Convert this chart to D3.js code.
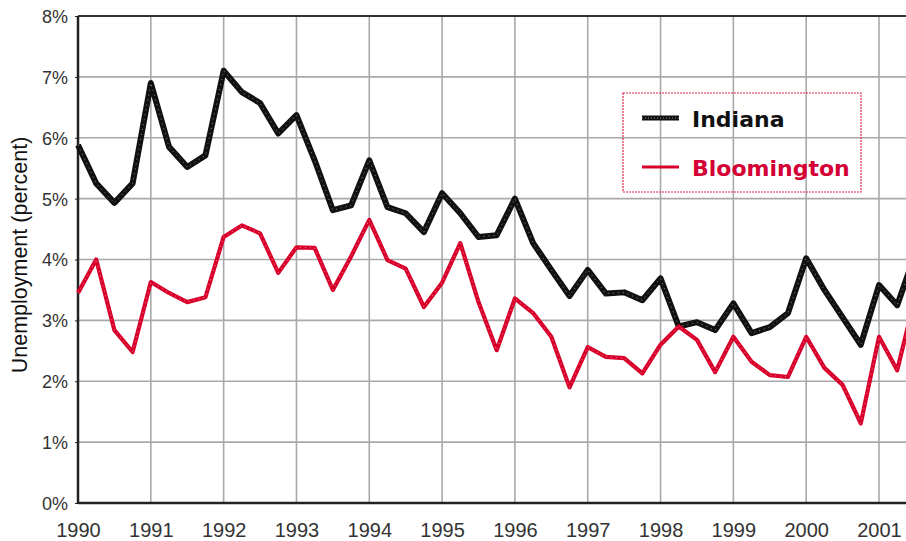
<!DOCTYPE html>
<html lang="en">
<head>
  <meta charset="UTF-8" />
  <title>Unemployment - Indiana vs Bloomington</title>
  <script src="https://cdnjs.cloudflare.com/ajax/libs/d3/7.8.5/d3.min.js"></script>
  <style>
    body {
      margin: 0;
      background: #fff;
      font-family: "Liberation Sans", Arial, sans-serif;
    }
    svg {
      display: block;
    }
  </style>
</head>
<body>
  <svg id="chart" width="906" height="541"></svg>

  <script>
    // quarterly observations, 1990 Q1 onward
    const quarters = [
      1990.00, 1990.25, 1990.50, 1990.75, 1991.00, 1991.25, 1991.50, 1991.75,
      1992.00, 1992.25, 1992.50, 1992.75, 1993.00, 1993.25, 1993.50, 1993.75,
      1994.00, 1994.25, 1994.50, 1994.75, 1995.00, 1995.25, 1995.50, 1995.75,
      1996.00, 1996.25, 1996.50, 1996.75, 1997.00, 1997.25, 1997.50, 1997.75,
      1998.00, 1998.25, 1998.50, 1998.75, 1999.00, 1999.25, 1999.50, 1999.75,
      2000.00, 2000.25, 2000.50, 2000.75, 2001.00, 2001.25, 2001.50
    ];

    const indiana = [
      5.88, 5.25, 4.93, 5.25, 6.90, 5.85, 5.52, 5.71,
      7.10, 6.75, 6.57, 6.07, 6.37, 5.63, 4.81, 4.89,
      5.63, 4.86, 4.76, 4.45, 5.09, 4.76, 4.37, 4.40,
      5.00, 4.27, 3.83, 3.40, 3.83, 3.44, 3.46, 3.33,
      3.69, 2.90, 2.97, 2.84, 3.28, 2.79, 2.89, 3.12,
      4.02, 3.50, 3.05, 2.60, 3.58, 3.25, 4.10
    ];

    const bloomington = [
      3.45, 4.00, 2.84, 2.48, 3.63, 3.45, 3.30, 3.38,
      4.37, 4.56, 4.43, 3.78, 4.20, 4.19, 3.50, 4.05,
      4.65, 3.99, 3.85, 3.22, 3.62, 4.27, 3.30, 2.51,
      3.36, 3.12, 2.73, 1.90, 2.56, 2.40, 2.38, 2.13,
      2.60, 2.90, 2.68, 2.15, 2.73, 2.32, 2.10, 2.07,
      2.73, 2.22, 1.94, 1.31, 2.73, 2.18, 3.40
    ];

    const yearTicks = [1990, 1991, 1992, 1993, 1994, 1995, 1996, 1997, 1998, 1999, 2000, 2001];
    const pctTicks = [0, 1, 2, 3, 4, 5, 6, 7, 8];

    const seriesNames = ["Indiana", "Bloomington"];
    const seriesColors = ["#111111", "#d8002a"];

    const svg = d3.select("#chart");
    const plotL = 78, plotT = 16, plotB = 503, plotR = 906;

    const x = d3.scaleLinear().domain([1990, 2001]).range([plotL, 879]);
    const y = d3.scaleLinear().domain([0, 8]).range([plotB, plotT]);

    // grid
    const grid = svg.append("g");
    grid.selectAll("line.h")
      .data(pctTicks.filter(d => d > 0 && d < 8))
      .enter().append("line")
      .attr("x1", plotL).attr("x2", plotR)
      .attr("y1", d => y(d)).attr("y2", d => y(d))
      .attr("stroke", "#a9a9a9")
      .attr("stroke-width", 1.6);

    grid.selectAll("line.v")
      .data(yearTicks.slice(1))
      .enter().append("line")
      .attr("x1", d => x(d)).attr("x2", d => x(d))
      .attr("y1", plotT).attr("y2", plotB)
      .attr("stroke", "#a9a9a9")
      .attr("stroke-width", 1.6);

    // frame
    svg.append("line")
      .attr("x1", plotL).attr("x2", plotR).attr("y1", plotT).attr("y2", plotT)
      .attr("stroke", "#333").attr("stroke-width", 2);
    svg.append("line")
      .attr("x1", plotL).attr("x2", plotL).attr("y1", plotT).attr("y2", plotB)
      .attr("stroke", "#222").attr("stroke-width", 2.5);
    svg.append("line")
      .attr("x1", plotL).attr("x2", plotR).attr("y1", plotB).attr("y2", plotB)
      .attr("stroke", "#222").attr("stroke-width", 2.5);

    // axes
    const yAxis = d3.axisLeft(y).tickValues(pctTicks).tickSize(3).tickFormat(d => d + "%");
    const gy = svg.append("g").attr("transform", `translate(${plotL},0)`).call(yAxis);
    gy.select(".domain").remove();
    gy.selectAll(".tick line").attr("stroke", "#222");
    gy.selectAll("text")
      .attr("x", -10)
      .attr("dy", "0.36em")
      .attr("fill", "#333")
      .style("font-size", "18px")
      .style("font-family", "'Liberation Sans', Arial, sans-serif");

    const xAxis = d3.axisBottom(x).tickValues(yearTicks).tickSize(0).tickFormat(d => d);
    const gx = svg.append("g").attr("transform", `translate(0,${plotB})`).call(xAxis);
    gx.select(".domain").remove();
    gx.selectAll("text")
      .attr("y", 20)
      .attr("dy", "0.71em")
      .attr("fill", "#333")
      .style("font-size", "20px")
      .style("font-family", "'Liberation Sans', Arial, sans-serif");

    svg.append("text")
      .attr("transform", "translate(27,255) rotate(-90)")
      .attr("text-anchor", "middle")
      .attr("fill", "#111")
      .style("font-size", "21.5px")
      .style("font-family", "'Liberation Sans', Arial, sans-serif")
      .text("Unemployment (percent)");

    // lines
    const line = d3.line().x((d, i) => x(quarters[i])).y(d => y(d));
    const plot = svg.append("g");

    [indiana, bloomington].forEach((vals, k) => {
      plot.append("path")
        .attr("d", line(vals))
        .attr("fill", "none")
        .attr("stroke", seriesColors[k])
        .attr("stroke-width", k === 0 ? 6 : 4.2)
        .attr("stroke-linejoin", "round");
      plot.append("path")
        .attr("d", line(vals))
        .attr("fill", "none")
        .attr("stroke", "#fff")
        .attr("stroke-opacity", 0.5)
        .attr("stroke-width", 1)
        .attr("stroke-dasharray", "1,4");
    });

    // legend
    const lg = svg.append("g");
    lg.append("rect")
      .attr("x", 623).attr("y", 93).attr("width", 238).attr("height", 99)
      .attr("fill", "none")
      .attr("stroke", "#e0264f")
      .attr("stroke-width", 1.2)
      .attr("stroke-dasharray", "2,1");

    seriesNames.forEach((name, k) => {
      const cy = 118 + k * 49;
      lg.append("line")
        .attr("x1", 642).attr("x2", 679).attr("y1", cy).attr("y2", cy)
        .attr("stroke", seriesColors[k])
        .attr("stroke-width", k === 0 ? 5 : 3);
      if (k === 0) {
        lg.append("line")
          .attr("x1", 642).attr("x2", 679).attr("y1", cy).attr("y2", cy)
          .attr("stroke", "#fff").attr("stroke-opacity", 0.55)
          .attr("stroke-width", 1).attr("stroke-dasharray", "1,2");
      }
      lg.append("text")
        .attr("x", 692).attr("y", cy + 9)
        .attr("fill", k === 0 ? "#111" : "#d40035")
        .style("font-size", "22px")
        .style("font-weight", "bold")
        .style("font-family", "'DejaVu Sans', Verdana, sans-serif")
        .text(name);
    });
  </script>
</body>
</html>
